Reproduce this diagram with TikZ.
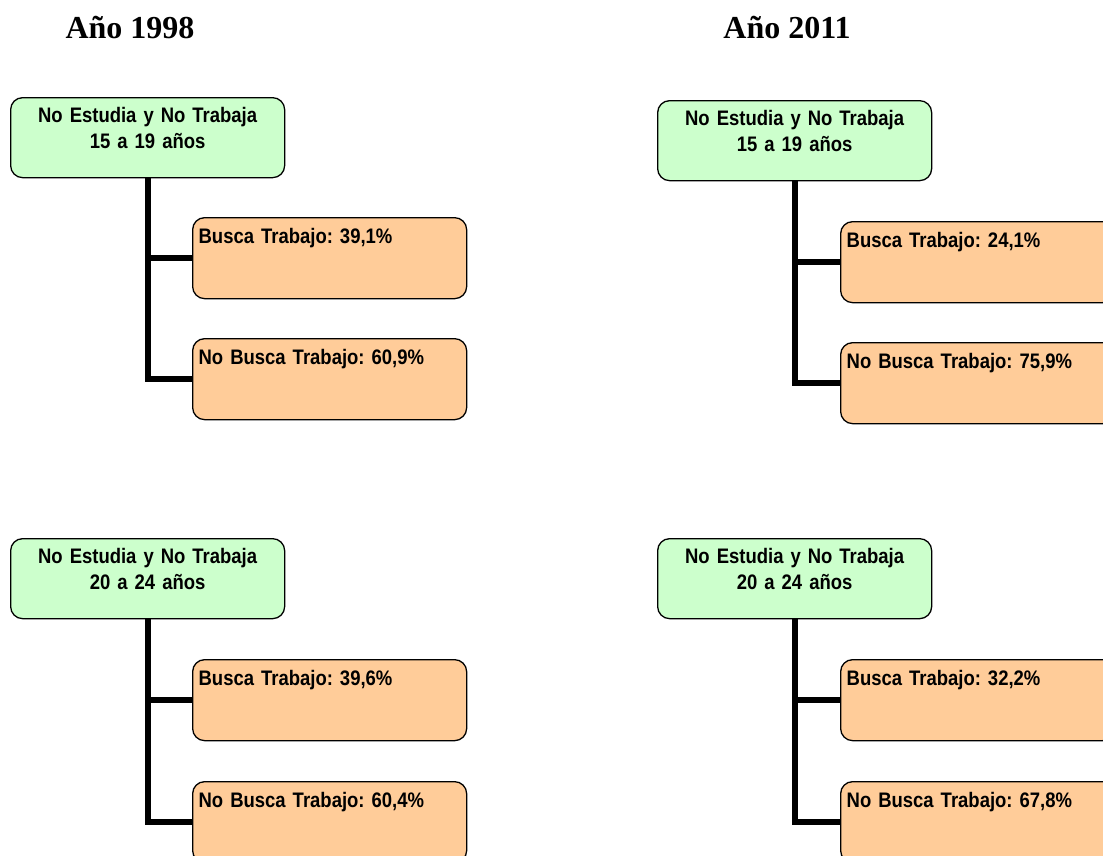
\documentclass[tikz,border=0pt]{standalone}
\usepackage{fontspec}
\usepackage{xcolor}
\setmainfont{Liberation Sans}
\newfontfamily\titulofont{Liberation Serif}
\newfontfamily\cajafont[FakeStretch=0.88,WordSpace=0.7]{Liberation Sans}
\definecolor{verdecaja}{HTML}{CCFFCC}
\definecolor{naranjacaja}{HTML}{FFCC99}
\frenchspacing

\begin{document}
\begin{tikzpicture}[
    x=1pt, y=-1pt,
    titulo/.style={anchor=base, inner sep=0pt, font=\titulofont\bfseries\fontsize{32}{38}\selectfont},
    grupo/.style={draw, line width=1.3pt, rounded corners=12pt, fill=verdecaja,
        anchor=north west, inner xsep=4pt, inner ysep=0pt, text width=266pt, align=center,
        text height=25pt, text depth=55pt, font=\cajafont\bfseries\fontsize{21}{26}\selectfont},
    opcion/.style={draw, line width=1.3pt, rounded corners=12pt, fill=naranjacaja,
        anchor=north west, inner xsep=6pt, inner ysep=0pt, text width=262pt, align=left,
        text height=26pt, text depth=55pt, font=\cajafont\bfseries\fontsize{21}{26}\selectfont},
    enlace/.style={line width=6pt}
]
\clip (0,0) rectangle (1103,855);

\node[titulo] (t98) at (130,38) {Año 1998};
\node[titulo] (t11) at (787,38) {Año 2011};

\node[grupo] (g98a) at (10,97) {No Estudia y No Trabaja \\ 15 a 19 años};
\node[opcion] (b98a) at (192,217) {Busca Trabajo: 39,1\%};
\node[opcion] (n98a) at (192,338) {No Busca Trabajo: 60,9\%};

\node[grupo] (g11a) at (657,100) {No Estudia y No Trabaja \\ 15 a 19 años};
\node[opcion] (b11a) at (840,221) {Busca Trabajo: 24,1\%};
\node[opcion] (n11a) at (840,342) {No Busca Trabajo: 75,9\%};

\node[grupo] (g98b) at (10,538) {No Estudia y No Trabaja \\ 20 a 24 años};
\node[opcion] (b98b) at (192,659) {Busca Trabajo: 39,6\%};
\node[opcion] (n98b) at (192,781) {No Busca Trabajo: 60,4\%};

\node[grupo] (g11b) at (657,538) {No Estudia y No Trabaja \\ 20 a 24 años};
\node[opcion] (b11b) at (840,659) {Busca Trabajo: 32,2\%};
\node[opcion] (n11b) at (840,781) {No Busca Trabajo: 67,8\%};

\draw[enlace] (g98a.south) |- (b98a.west);
\draw[enlace] (g98a.south) |- (n98a.west);
\draw[enlace] (g11a.south) |- (b11a.west);
\draw[enlace] (g11a.south) |- (n11a.west);
\draw[enlace] (g98b.south) |- (b98b.west);
\draw[enlace] (g98b.south) |- (n98b.west);
\draw[enlace] (g11b.south) |- (b11b.west);
\draw[enlace] (g11b.south) |- (n11b.west);
\end{tikzpicture}
\end{document}
